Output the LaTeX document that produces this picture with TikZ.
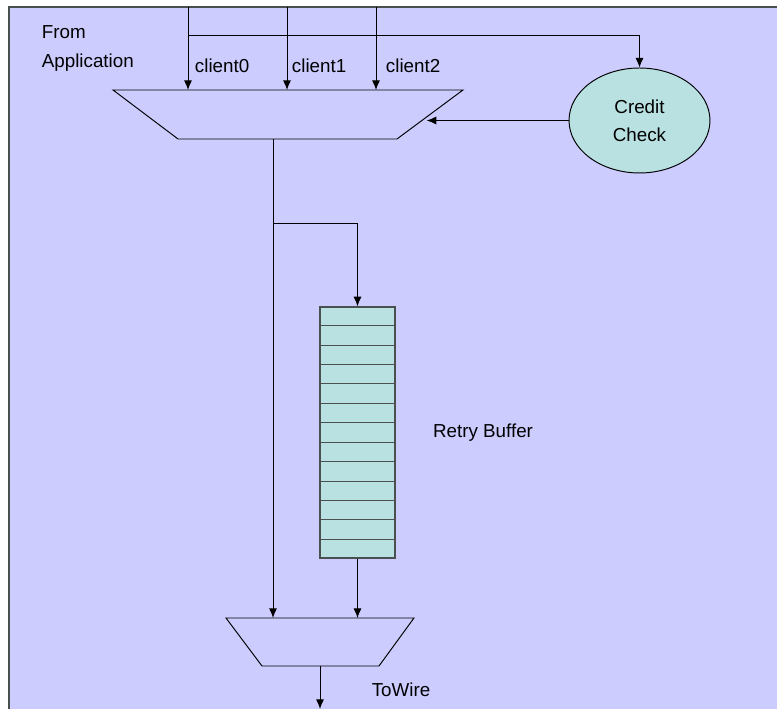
\documentclass[tikz,border=0pt]{standalone}
\usepackage{fontspec}
\setmainfont{Liberation Sans}
\usepackage{tikz}
\usetikzlibrary{arrows.meta, positioning, shapes.geometric, calc}

\definecolor{sheetblue}{HTML}{CCCCFF}
\definecolor{cellteal}{HTML}{B9E1E1}
\definecolor{edgegray}{HTML}{4A5050}

\begin{document}
\begin{tikzpicture}[
  x=0.02cm, y=-0.02cm,
  font=\fontsize{10.7}{16}\selectfont,
  muxbox/.style={inner sep=0pt, outer sep=0pt},
  muxline/.style={line width=0.55pt, line join=miter},
  buffer/.style={
    draw=edgegray, fill=cellteal, line width=0.8pt,
    minimum width=1.5cm, minimum height=5.02cm, inner sep=0pt
  },
  check/.style={
    draw, ellipse, fill=cellteal, line width=0.55pt,
    minimum width=2.82cm, minimum height=2.1cm, align=center, inner sep=0pt
  },
  label/.style={inner sep=0pt, align=left},
  wire/.style={line width=0.55pt, -{Latex[length=5.5pt, width=4.6pt]}}
]

% Sheet
\useasboundingbox (0,0) rectangle (777,709);
\clip (0,0) rectangle (777,709);
\fill[sheetblue] (9,7) rectangle (790,720);
\draw[edgegray, line width=0.8pt] (9,720) -- (9,7) -- (790,7);

% Blocks
\node[muxbox, minimum width=7cm, minimum height=0.98cm] (mux1) at (288,114.5) {};
\draw[muxline] (mux1.north west) -- (mux1.north east) -- ([xshift=-1.32cm]mux1.south east) coordinate (mux1 br)
  -- ([xshift=1.3cm]mux1.south west) -- cycle;
\node[check] (credit) at (639.5,120.5) {Credit\\Check};
\node[buffer] (buf) at (357.5,432.5) {};
\node[muxbox, minimum width=3.76cm, minimum height=0.96cm] (mux2) at (320,642) {};
\draw[muxline] (mux2.north west) -- (mux2.north east) -- ([xshift=-0.7cm]mux2.south east)
  -- ([xshift=0.72cm]mux2.south west) -- cycle;

% Buffer entries
\foreach \i in {1,...,12}
  \draw[edgegray, line width=0.6pt] ($(buf.north west)!\i/13!(buf.south west)$) -- ($(buf.north east)!\i/13!(buf.south east)$);

% Labels
\node[label, anchor=west] (app) at (41.5,48.5) {From\\Application};
\node[label] (rlabel) at (483,433) {Retry Buffer};
\node[label] (wlabel) at (401,690) {ToWire};

% Client inputs
\coordinate (in0) at (188,7);
\coordinate (in1) at (287,7);
\coordinate (in2) at (376,7);
\draw[wire] (in0) -- (in0 |- mux1.north) node[label, anchor=west, pos=0.704, xshift=0.13cm] {client0};
\draw[wire] (in1) -- (in1 |- mux1.north) node[label, anchor=west, pos=0.704, xshift=0.09cm] {client1};
\draw[wire] (in2) -- (in2 |- mux1.north) node[label, anchor=west, pos=0.704, xshift=0.19cm] {client2};

% Credit loop
\coordinate (tap) at (188,35);
\coordinate (grant) at ($(mux1.north east)!0.55!(mux1 br)$);
\draw[wire] (tap) -| (credit.north);
\draw[wire] (credit.west) -- (credit.west -| grant);

% Direct path and retry path
\coordinate (out) at (273,139);
\coordinate (fork) at (273,223);
\draw[wire] (out) -- (out |- mux2.north);
\draw[wire] (fork) -| (buf.north);
\draw[wire] (buf.south) -- (buf.south |- mux2.north);

% To wire
\coordinate (line) at (320,709);
\draw[wire] (mux2.south) -- (line);

\end{tikzpicture}
\end{document}
